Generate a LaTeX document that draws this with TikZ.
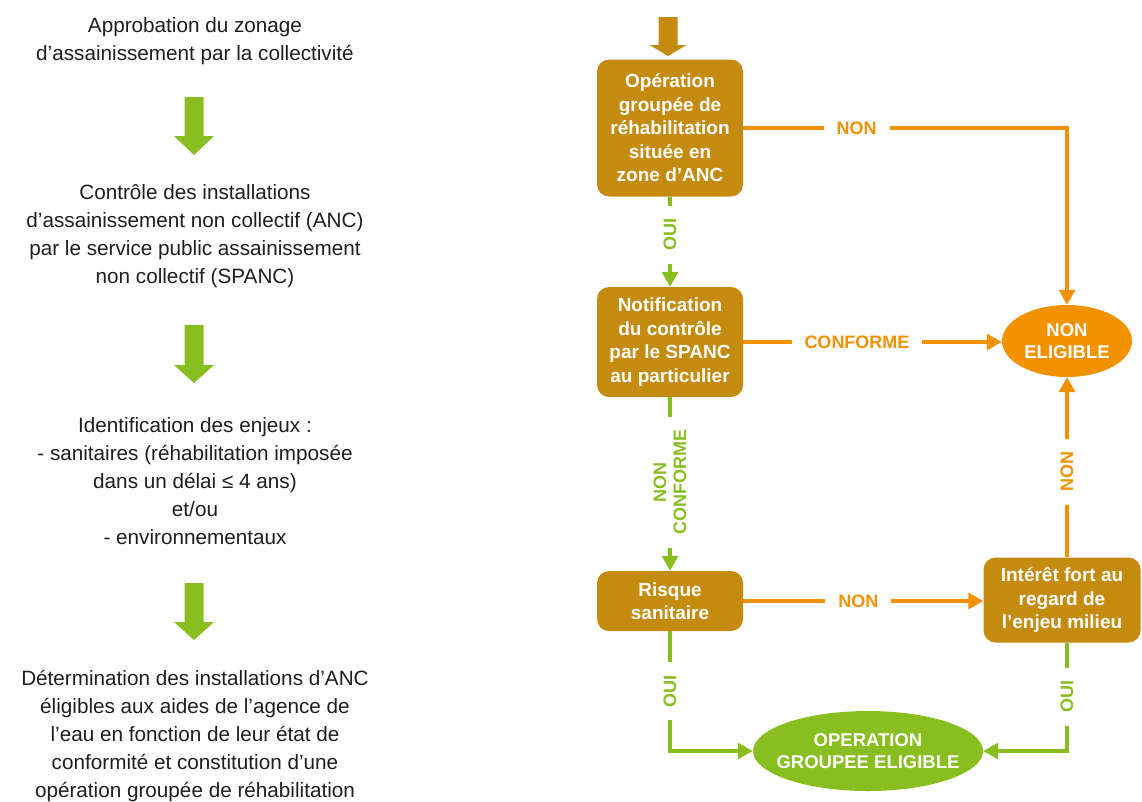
\documentclass[tikz,border=0pt]{standalone}
\usepackage{fontspec}
\setmainfont{Liberation Sans}
\usetikzlibrary{arrows.meta,shapes.geometric}
\definecolor{brn}{RGB}{197,139,15}
\definecolor{org}{RGB}{243,146,0}
\definecolor{grn}{RGB}{137,190,32}
\definecolor{txt}{RGB}{30,30,30}
\newcommand\blkarrow[6]{% color, x, top, headstart, tip, head half-width
  \fill[#1] (#2-9.5,#3) -- (#2+9.5,#3) -- (#2+9.5,#4) -- (#2+#6,#4) -- (#2,#5) -- (#2-#6,#4) -- (#2-9.5,#4) -- cycle;}
\begin{document}
\begin{tikzpicture}[x=1pt,y=-1pt,
  lefttext/.style={align=center,text=txt,font=\fontsize{20.7}{28}\selectfont,inner sep=0pt},
  box/.style={fill=brn,rounded corners=12pt,text=white,font=\bfseries\fontsize{19}{23.5}\selectfont,align=center,inner sep=0pt},
  oval/.style={ellipse,inner sep=0pt},
  ovaltext/.style={text=white,font=\bfseries\fontsize{18.5}{22}\selectfont,align=center,inner sep=0pt},
  oline/.style={draw=org,line width=3.2pt},
  gline/.style={draw=grn,line width=3.2pt},
  tip/.style={-{Triangle[length=15pt,width=16pt]}},
  lab/.style={fill=white,font=\bfseries\fontsize{18}{20}\selectfont,inner ysep=2pt,inner xsep=13pt,align=center},
  olab/.style={lab,text=org},
  glab/.style={lab,text=grn,rotate=90}
]
\useasboundingbox (0,0) rectangle (1142,801);

% left column
\node[lefttext] (t1) at (195,41) {Approbation du zonage\\d’assainissement par la collectivité};
\node[lefttext] (t2) at (195,236) {Contrôle des installations\\d’assainissement non collectif (ANC)\\par le service public assainissement\\non collectif (SPANC)};
\node[lefttext] (t3) at (195,481) {Identification des enjeux :\\- sanitaires (réhabilitation imposée\\dans un délai ≤ 4 ans)\\et/ou\\- environnementaux};
\node[lefttext] (t4) at (195,736) {Détermination des installations d’ANC\\éligibles aux aides de l’agence de\\l’eau en fonction de leur état de\\conformité et constitution d’une\\opération groupée de réhabilitation};
\blkarrow{grn}{194}{97}{136}{155}{20}
\blkarrow{grn}{194}{325}{365}{383}{20}
\blkarrow{grn}{194}{583}{622}{640}{20}

% right flowchart
\blkarrow{brn}{668}{17}{45}{56}{18.5}
\node[box,minimum width=146pt,minimum height=137pt] (b1) at (670,128) {Opération\\groupée de\\réhabilitation\\située en\\zone d’ANC};
\node[box,minimum width=146pt,minimum height=110pt] (b2) at (670,342) {Notification\\du contrôle\\par le SPANC\\au particulier};
\node[box,minimum width=146pt,minimum height=60pt] (b3) at (670,601) {Risque\\sanitaire};
\node[box,minimum width=157pt,minimum height=85pt] (b4) at (1062,600) {Intérêt fort au\\regard de\\l’enjeu milieu};
\node[oval,fill=org,minimum width=130pt,minimum height=72pt] (ne) at (1067,341) {};
\node[ovaltext] (net) at (ne.center) {NON\\ELIGIBLE};
\node[oval,fill=grn,minimum width=230pt,minimum height=80pt] (ge) at (868,751) {};
\node[ovaltext] (get) at (ge.center) {OPERATION\\GROUPEE ELIGIBLE};

\draw[oline,tip] (b1.east) -- node[olab,pos=0.35]{NON} (b1.east -| ne.north) -- (ne.north);
\draw[oline,tip] (b2.east) -- node[olab,pos=0.44]{CONFORME} (b2.east -| ne.west);
\draw[oline,tip] (b3.east) -- node[olab,pos=0.48]{NON} (b3.east -| b4.west);
\draw[oline,tip] (b4.north -| ne.south) -- node[olab,rotate=90,pos=0.475]{NON} (ne.south);
\draw[gline,tip] (b1.south) -- node[glab,pos=0.42]{OUI} (b2.north);
\draw[gline,tip] (b2.south) -- node[glab,pos=0.49]{NON\\CONFORME} (b3.north);
\draw[gline,tip] (b3.south) |- node[glab,pos=0.25]{OUI} (ge.west);
\draw[gline,tip] (b4.south -| ne.south) |- node[glab,pos=0.25]{OUI} (ge.east);
\end{tikzpicture}
\end{document}
